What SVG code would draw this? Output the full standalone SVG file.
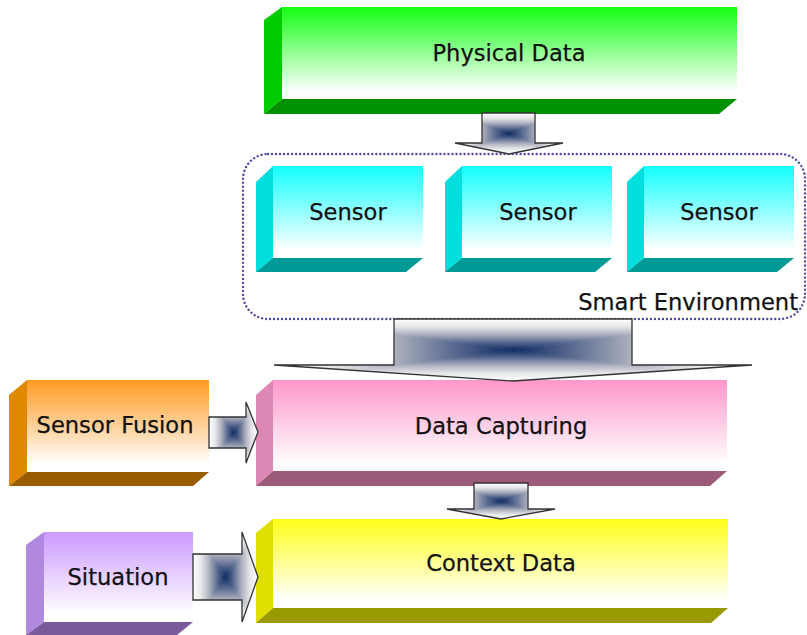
<svg xmlns="http://www.w3.org/2000/svg" width="807" height="635" viewBox="0 0 807 635">
  <style>
    .lbl { font-family: "DejaVu Sans", "Liberation Sans", sans-serif; font-size: 22.6px; fill: #111; stroke: #111; stroke-width: 0.25; text-anchor: middle; }
    .env { fill: none; stroke: #4b4ba6; stroke-width: 2.4; stroke-dasharray: 0.01 4; stroke-linecap: round; }
    .arrow-outline { fill: none; stroke: #333; stroke-width: 1.3; stroke-linejoin: miter; }
  </style>
  <defs>
    <!-- front face shading: saturated top fading to white -->
    <linearGradient id="fGreen" x1="0" y1="0" x2="0" y2="1"><stop offset="0" stop-color="#14ff14"/><stop offset="0.92" stop-color="#ffffff"/></linearGradient>
    <linearGradient id="fCyan" x1="0" y1="0" x2="0" y2="1"><stop offset="0" stop-color="#14ffff"/><stop offset="0.92" stop-color="#ffffff"/></linearGradient>
    <linearGradient id="fPink" x1="0" y1="0" x2="0" y2="1"><stop offset="0" stop-color="#ff97cb"/><stop offset="0.92" stop-color="#ffffff"/></linearGradient>
    <linearGradient id="fYellow" x1="0" y1="0" x2="0" y2="1"><stop offset="0" stop-color="#ffff18"/><stop offset="0.92" stop-color="#ffffff"/></linearGradient>
    <linearGradient id="fOrange" x1="0" y1="0" x2="0" y2="1"><stop offset="0" stop-color="#ff9a22"/><stop offset="0.92" stop-color="#ffffff"/></linearGradient>
    <linearGradient id="fPurple" x1="0" y1="0" x2="0" y2="1"><stop offset="0" stop-color="#cc99ff"/><stop offset="0.92" stop-color="#ffffff"/></linearGradient>

    <!-- rectangular "from centre" shading for the arrows, built from four wedges -->
    <linearGradient id="gT" x1="0" y1="0" x2="0" y2="1">
      <stop offset="0" stop-color="#ffffff"/><stop offset="0.25" stop-color="#e6e7ea"/><stop offset="0.5" stop-color="#aeb2bf"/><stop offset="0.75" stop-color="#5a6a90"/><stop offset="1" stop-color="#0c2a62"/>
    </linearGradient>
    <linearGradient id="gB" href="#gT" x1="0" y1="1" x2="0" y2="0"/>
    <linearGradient id="gL" href="#gT" x1="0" y1="0" x2="1" y2="0"/>
    <linearGradient id="gR" href="#gT" x1="1" y1="0" x2="0" y2="0"/>

    <clipPath id="cA1"><path d="M482,113 H535 V143 H563 L509,154 L455,143 H482 Z"/></clipPath>
    <clipPath id="cA2"><path d="M394,319 H632 V365 H752 L513,381 L274,365 H394 Z"/></clipPath>
    <clipPath id="cA3"><path d="M474,483 H528 V509 H555 L501,519 L447,509 H474 Z"/></clipPath>
    <clipPath id="cA4"><path d="M209,417 H246 V402 L258,432 L246,463 V448 H209 Z"/></clipPath>
    <clipPath id="cA5"><path d="M193,554 H242 V532 L258,577 L242,622 V600 H193 Z"/></clipPath>
  </defs>

  <rect width="807" height="635" fill="#ffffff"/>

  <!-- smart environment boundary -->
  <g id="smart-environment">
    <rect class="env" x="243" y="154" width="562" height="165" rx="25" ry="25"/>
    <text class="lbl" x="798" y="310" style="text-anchor:end">Smart Environment</text>
  </g>

  <g id="physical-data">
    <polygon points="264,20 282,7 282,99 264,114" fill="#00cc00"/>
    <polygon points="282,99 737,99 719,114 264,114" fill="#009000"/>
    <rect x="282" y="7" width="455" height="92" fill="url(#fGreen)"/>
    <text class="lbl" x="509" y="61">Physical Data</text>
  </g>

  <g id="sensor-1">
    <polygon points="256,182 273,166 273,258 256,272" fill="#00dede"/>
    <polygon points="273,258 423,258 406,272 256,272" fill="#009a96"/>
    <rect x="273" y="166" width="150" height="92" fill="url(#fCyan)"/>
    <text class="lbl" x="348" y="220">Sensor</text>
  </g>

  <g id="sensor-2">
    <polygon points="445,182 462,166 462,258 445,272" fill="#00dede"/>
    <polygon points="462,258 612,258 595,272 445,272" fill="#009a96"/>
    <rect x="462" y="166" width="150" height="92" fill="url(#fCyan)"/>
    <text class="lbl" x="538" y="220">Sensor</text>
  </g>

  <g id="sensor-3">
    <polygon points="627,182 644,166 644,258 627,272" fill="#00dede"/>
    <polygon points="644,258 794,258 777,272 627,272" fill="#009a96"/>
    <rect x="644" y="166" width="150" height="92" fill="url(#fCyan)"/>
    <text class="lbl" x="719" y="220">Sensor</text>
  </g>

  <g id="data-capturing">
    <polygon points="256,395 273,380 273,471 256,486" fill="#dd88b4"/>
    <polygon points="273,471 727,471 710,486 256,486" fill="#9a5a78"/>
    <rect x="273" y="380" width="454" height="91" fill="url(#fPink)"/>
    <text class="lbl" x="501" y="434">Data Capturing</text>
  </g>

  <g id="context-data">
    <polygon points="256,533 273,519 273,608 256,623" fill="#e0e000"/>
    <polygon points="273,608 728,608 711,623 256,623" fill="#999900"/>
    <rect x="273" y="519" width="455" height="89" fill="url(#fYellow)"/>
    <text class="lbl" x="501" y="571">Context Data</text>
  </g>

  <g id="sensor-fusion">
    <polygon points="9,395 27,380 27,472 9,486" fill="#e08800"/>
    <polygon points="27,472 209,472 193,486 9,486" fill="#9a5c00"/>
    <rect x="27" y="380" width="182" height="92" fill="url(#fOrange)"/>
    <text class="lbl" x="115" y="433">Sensor Fusion</text>
  </g>

  <g id="situation">
    <polygon points="26,545 44,532 44,622 26,635" fill="#b088e0"/>
    <polygon points="44,622 193,622 177,635 26,635" fill="#7a5a9a"/>
    <rect x="44" y="532" width="149" height="90" fill="url(#fPurple)"/>
    <text class="lbl" x="118" y="585">Situation</text>
  </g>

  <g id="connectors">
    <!-- physical data to sensors -->
    <g clip-path="url(#cA1)">
      <polygon points="455,113 563,113 509,133.5" fill="url(#gT)" stroke="url(#gT)" stroke-width="0.6"/>
      <polygon points="455,154 563,154 509,133.5" fill="url(#gB)" stroke="url(#gB)" stroke-width="0.6"/>
      <polygon points="455,113 455,154 509,133.5" fill="url(#gL)" stroke="url(#gL)" stroke-width="0.6"/>
      <polygon points="563,113 563,154 509,133.5" fill="url(#gR)" stroke="url(#gR)" stroke-width="0.6"/>
    </g>
    <path class="arrow-outline" d="M482,113 H535 V143 H563 L509,154 L455,143 H482 Z"/>

    <!-- smart environment to data capturing -->
    <g clip-path="url(#cA2)">
      <polygon points="274,319 752,319 513,350" fill="url(#gT)" stroke="url(#gT)" stroke-width="0.6"/>
      <polygon points="274,381 752,381 513,350" fill="url(#gB)" stroke="url(#gB)" stroke-width="0.6"/>
      <polygon points="274,319 274,381 513,350" fill="url(#gL)" stroke="url(#gL)" stroke-width="0.6"/>
      <polygon points="752,319 752,381 513,350" fill="url(#gR)" stroke="url(#gR)" stroke-width="0.6"/>
    </g>
    <path class="arrow-outline" d="M394,319 H632 V365 H752 L513,381 L274,365 H394 Z"/>

    <!-- data capturing to context data -->
    <g clip-path="url(#cA3)">
      <polygon points="447,483 555,483 501,501" fill="url(#gT)" stroke="url(#gT)" stroke-width="0.6"/>
      <polygon points="447,519 555,519 501,501" fill="url(#gB)" stroke="url(#gB)" stroke-width="0.6"/>
      <polygon points="447,483 447,519 501,501" fill="url(#gL)" stroke="url(#gL)" stroke-width="0.6"/>
      <polygon points="555,483 555,519 501,501" fill="url(#gR)" stroke="url(#gR)" stroke-width="0.6"/>
    </g>
    <path class="arrow-outline" d="M474,483 H528 V509 H555 L501,519 L447,509 H474 Z"/>

    <!-- sensor fusion to data capturing -->
    <g clip-path="url(#cA4)">
      <polygon points="209,402 258,402 233.5,432.5" fill="url(#gT)" stroke="url(#gT)" stroke-width="0.6"/>
      <polygon points="209,463 258,463 233.5,432.5" fill="url(#gB)" stroke="url(#gB)" stroke-width="0.6"/>
      <polygon points="209,402 209,463 233.5,432.5" fill="url(#gL)" stroke="url(#gL)" stroke-width="0.6"/>
      <polygon points="258,402 258,463 233.5,432.5" fill="url(#gR)" stroke="url(#gR)" stroke-width="0.6"/>
    </g>
    <path class="arrow-outline" d="M209,417 H246 V402 L258,432 L246,463 V448 H209 Z"/>

    <!-- situation to context data -->
    <g clip-path="url(#cA5)">
      <polygon points="193,532 258,532 225.5,577" fill="url(#gT)" stroke="url(#gT)" stroke-width="0.6"/>
      <polygon points="193,622 258,622 225.5,577" fill="url(#gB)" stroke="url(#gB)" stroke-width="0.6"/>
      <polygon points="193,532 193,622 225.5,577" fill="url(#gL)" stroke="url(#gL)" stroke-width="0.6"/>
      <polygon points="258,532 258,622 225.5,577" fill="url(#gR)" stroke="url(#gR)" stroke-width="0.6"/>
    </g>
    <path class="arrow-outline" d="M193,554 H242 V532 L258,577 L242,622 V600 H193 Z"/>
  </g>
</svg>
